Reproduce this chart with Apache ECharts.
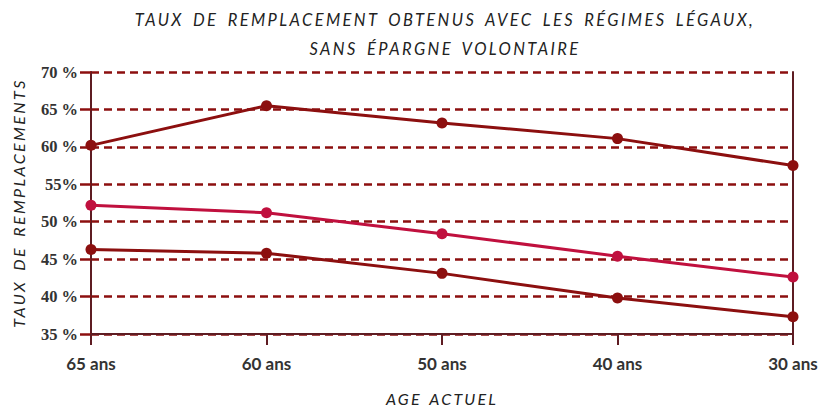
<!DOCTYPE html>
<html><head><meta charset="utf-8">
<script src="https://cdn.jsdelivr.net/npm/echarts@6/dist/echarts.min.js"></script>
<style>html,body{margin:0;padding:0;background:#fff}#c{width:821px;height:409px}</style>
</head><body><div id="c"></div>
<script>
const categories = ['65 ans', '60 ans', '50 ans', '40 ans', '30 ans'];
const seriesHigh = [60.2, 65.5, 63.2, 61.1, 57.5];
const seriesMid = [52.2, 51.2, 48.4, 45.4, 42.6];
const seriesLow = [46.3, 45.8, 43.1, 39.8, 37.3];
const yTickLabels = {35: '35 %', 40: '40 %', 45: '45 %', 50: '50 %', 55: '55%', 60: '60 %', 65: '65 %', 70: '70 %'};
const titleLines = ['TAUX DE REMPLACEMENT OBTENUS AVEC LES RÉGIMES LÉGAUX,', 'SANS ÉPARGNE VOLONTAIRE'];
const xName = 'AGE ACTUEL';
const yName = 'TAUX DE REMPLACEMENTS';

const dark = '#8c0f0f';
const pink = '#c0103e';
const axisCol = '#5e1c22';

const chart = echarts.init(document.getElementById('c'), null, {renderer: 'svg'});
function mk(data, color) {
  return {
    type: 'line', data: data, symbol: 'circle', symbolSize: 11,
    lineStyle: {color: color, width: 3}, itemStyle: {color: color}, z: 5
  };
}
const italic = {fontFamily: 'Lato', fontStyle: 'italic', fontWeight: 'normal', fontSize: 16.5, color: '#222'};
chart.setOption({
  animation: false,
  title: [
    {text: titleLines[0], left: 440, top: 6, textAlign: 'center', textStyle: italic},
    {text: titleLines[1], left: 440, top: 35, textAlign: 'center', textStyle: italic}
  ],
  grid: {left: 91, right: 28, top: 72, bottom: 75, outerBoundsMode: 'none', containLabel: false},
  xAxis: {
    type: 'category', data: categories, boundaryGap: false,
    axisLine: {lineStyle: {color: axisCol, width: 2}},
    axisTick: {show: true, length: 11, lineStyle: {color: axisCol, width: 2}},
    axisLabel: {margin: 21, fontFamily: 'Lato', fontWeight: 'bold', fontSize: 17, color: '#333'},
    name: xName, nameLocation: 'middle', nameGap: 56,
    nameTextStyle: Object.assign({}, italic, {fontSize: 16, lineHeight: 16})
  },
  yAxis: [{
    type: 'value', min: 35, max: 70, interval: 5,
    axisLine: {show: true, lineStyle: {color: axisCol, width: 2}},
    axisTick: {show: true, length: 11, lineStyle: {color: dark, width: 2.5}},
    splitLine: {show: true, lineStyle: {color: dark, width: 2.5, type: [8, 5]}},
    axisLabel: {margin: 13, fontFamily: 'Liberation Serif', fontWeight: 'bold', fontSize: 16.5, color: '#333',
      formatter: v => yTickLabels[v] || ''},
    name: yName, nameLocation: 'middle', nameGap: 65, nameRotate: 90,
    nameTextStyle: Object.assign({}, italic, {fontSize: 16})
  }, {
    type: 'value', min: 35, max: 70, interval: 5, position: 'right',
    axisLine: {show: true, lineStyle: {color: axisCol, width: 2}},
    axisTick: {show: false}, axisLabel: {show: false}, splitLine: {show: false}
  }],
  series: [mk(seriesHigh, dark), mk(seriesMid, pink), mk(seriesLow, dark)]
});
// letter / word spacing for the italic headings (SVG text)
const spaced = {};
spaced[titleLines[0]] = ['2.4px', '3px'];
spaced[titleLines[1]] = ['2.4px', '3px'];
spaced[xName] = ['2.2px', '2px'];
spaced[yName] = ['2.4px', '3px'];
function applySpacing() {
  document.querySelectorAll('#c text').forEach(t => {
    const s = spaced[t.textContent];
    if (s) { t.style.letterSpacing = s[0]; t.style.wordSpacing = s[1]; }
  });
}
applySpacing();
chart.on('finished', applySpacing);
</script></body></html>
